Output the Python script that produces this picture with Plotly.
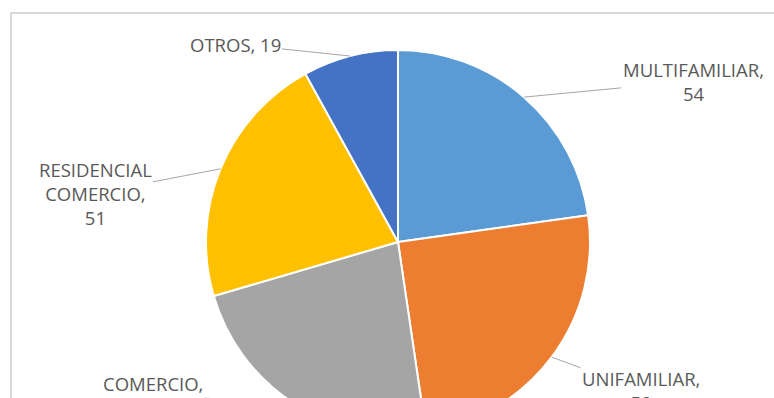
import math
import plotly.graph_objects as go

# ---- data ----
categories = ["MULTIFAMILIAR", "UNIFAMILIAR", "COMERCIO", "RESIDENCIAL COMERCIO", "OTROS"]
values = [54, 59, 54, 51, 19]
label_texts = ["MULTIFAMILIAR,<br>54", "UNIFAMILIAR,<br>59", "COMERCIO,<br>54",
               "RESIDENCIAL<br>COMERCIO,<br>51", "OTROS, 19"]

# ---- style ----
colors = ["#5B9BD5", "#ED7D31", "#A5A5A5", "#FFC000", "#4472C4"]
W, H = 774, 440
CX, CY, R = 398, 242, 192          # pie centre / radius in pixels (from top-left)
# text-centre pixel positions of the outside labels
label_pos = {
    "MULTIFAMILIAR": (693, 81),
    "UNIFAMILIAR": (641, 390),
    "COMERCIO": (153, 395),
    "RESIDENCIAL COMERCIO": (95, 193),
    "OTROS": (235, 44),
}
font_family = "Open Sans"
font_size = 18.5
text_color = "#595959"

fig = go.Figure(go.Pie(
    labels=categories,
    values=values,
    sort=False,
    direction="clockwise",
    rotation=0,
    marker=dict(colors=colors, line=dict(color="white", width=2)),
    textinfo="none",
    hoverinfo="label+value",
    showlegend=False,
    domain=dict(x=[(CX - R) / W, (CX + R) / W],
                y=[1 - (CY + R) / H, 1 - (CY - R) / H]),
))

# outside labels with leader lines, anchored at the slice mid-angle on the rim
total = sum(values)
cum = 0
annotations = []
for cat, v, txt in zip(categories, values, label_texts):
    mid = (cum + v / 2) / total * 2 * math.pi
    cum += v
    ex = CX + R * math.sin(mid)
    ey = CY - R * math.cos(mid)
    tx, ty = label_pos[cat]
    annotations.append(dict(
        x=ex / W, y=1 - ey / H, xref="paper", yref="paper",
        ax=tx - ex, ay=ty - ey, axref="pixel", ayref="pixel",
        text=txt, showarrow=True, arrowhead=0, arrowwidth=1,
        arrowcolor="#A6A6A6", align="center",
        font=dict(family=font_family, size=font_size, color=text_color),
    ))

fig.update_layout(
    width=W, height=H,
    margin=dict(l=0, r=0, t=0, b=0),
    paper_bgcolor="white",
    annotations=annotations,
    shapes=[dict(type="rect", xref="paper", yref="paper",
                 x0=11 / W, x1=1.05, y0=-0.1, y1=1 - 13 / H,
                 line=dict(color="#D9D9D9", width=2), layer="below")],
)

fig.write_html("out.html", post_script="document.body.style.overflow='hidden';document.body.style.margin='0';")
